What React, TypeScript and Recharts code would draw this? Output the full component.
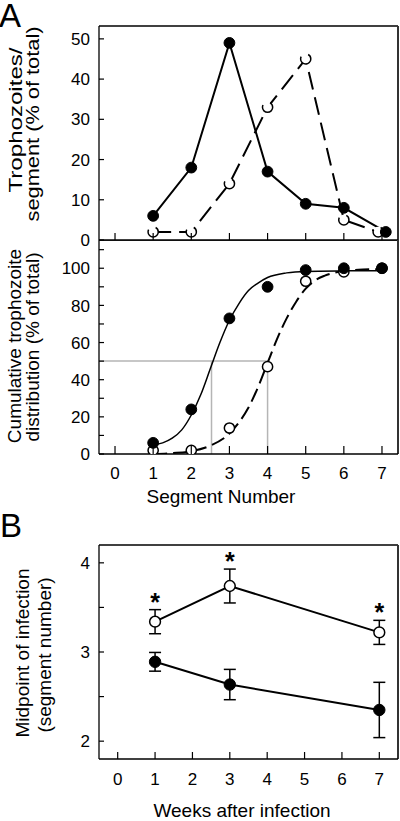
import React from 'react';
import { ComposedChart, Line, XAxis, YAxis, ReferenceLine, ReferenceDot, ErrorBar } from 'recharts';

// panel A, top: trophozoites per segment (% of total)
const segments = [1, 2, 3, 4, 5, 6, 7];
const perSegFilled = [6, 18, 49, 17, 9, 8, 2];
const perSegOpen = [2, 2, 14, 33, 45, 5, 2];
// last points are nudged apart in the original so both markers show
const perSegFilledX = [1, 2, 3, 4, 5, 6, 7.1];
const perSegOpenX = [1, 2, 3, 4, 5, 6, 6.9];

// panel A, bottom: cumulative distribution
const cumFilled = [6, 24, 73, 90, 99, 100, 100];
const cumOpen = [2, 2, 14, 47, 93, 98, 100];

// fitted curves
const fitFilledX = [1, 1.25, 1.5, 1.75, 2, 2.25, 2.5, 2.75, 3, 3.25, 3.5, 3.75, 4, 4.5, 5, 6, 7];
const fitFilledY = [5, 6, 8.5, 13, 21, 32, 46, 60, 72, 81, 88, 92, 95, 97.5, 98.3, 98.6, 98.7];
const fitOpenX = [1, 1.5, 2, 2.5, 3, 3.25, 3.5, 3.75, 4, 4.25, 4.5, 4.75, 5, 5.25, 5.5, 6, 6.5, 7];
const fitOpenY = [0, 0.5, 1.5, 4.5, 11, 17, 25, 36, 49, 62, 73, 82, 89, 93.5, 96, 98.5, 99.3, 99.5];

const midpoints = [2.53, 4.0];
const halfLevel = 50;

// panel B: midpoint of infection
const weeks = [1, 3, 7];
const midOpen = [3.34, 3.74, 3.22];
const midOpenErr = [0.135, 0.19, 0.135];
const midFilled = [2.89, 2.635, 2.35];
const midFilledErr = [0.105, 0.17, 0.31];

const xTicksA = [0, 1, 2, 3, 4, 5, 6, 7];
const xTicksB = [0, 1, 2, 3, 4, 5, 6, 7];
const yTicksTop = [0, 10, 20, 30, 40, 50];
const yTicksCum = [0, 10, 20, 30, 40, 50, 60, 70, 80, 90, 100, 110];
const yTicksB = [2, 2.5, 3, 3.5, 4];

const FONT = '"Liberation Sans", Arial, sans-serif';
const xDomA: [number, number] = [-0.42, 7.42];
const xDomB: [number, number] = [-0.5, 7.5];

const pts = (xs: number[], ys: number[]) => xs.map((x, i) => ({ x, y: ys[i] }));

const xTick = (len: number, gap: number | null) => (props: any) => {
  const { x, y, payload } = props;
  return (
    <g>
      <line x1={x} x2={x} y1={y} y2={y - len} stroke="#000" strokeWidth={1.2} />
      {gap !== null && (
        <text x={x} y={y + gap} textAnchor="middle" fontSize={17} fontFamily={FONT} fill="#000">
          {payload.value}
        </text>
      )}
    </g>
  );
};

const yTick = (len: number, show: (v: number) => boolean) => (props: any) => {
  const { x, y, payload } = props;
  return (
    <g>
      <line x1={x} x2={x + len} y1={y} y2={y} stroke="#000" strokeWidth={1.2} />
      {show(payload.value) && (
        <text x={x - 9} y={y} dy="0.36em" textAnchor="end" fontSize={17} fontFamily={FONT} fill="#000">
          {payload.value}
        </text>
      )}
    </g>
  );
};

// week labels of panel B, placed under each tick by the x scale
const WeekLabel = (p: any) => {
  const vb = p.viewBox || {};
  return (
    <text x={vb.x} y={(vb.y || 0) + (vb.height || 0) + 26} textAnchor="middle" fontSize={17} fontFamily={FONT} fill="#000">
      {p.value}
    </text>
  );
};

const Asterisk = (p: any) => (
  <text x={p.cx} y={p.cy + 1} textAnchor="middle" fontSize={25} fontWeight="bold" fontFamily={FONT} fill="#000">
    *
  </text>
);

const VTitle = ({ x, y, text, len }: { x: number; y: number; text: string; len?: number }) => (
  <text x={x} y={y} transform={`rotate(-90 ${x} ${y})`} textAnchor="middle" fontSize={19} fontFamily={FONT} fill="#000"
    textLength={len} lengthAdjust={len ? 'spacingAndGlyphs' : undefined}>
    {text}
  </text>
);

export default function App() {
  const abs = (top: number): React.CSSProperties => ({ position: 'absolute', left: 0, top });
  return (
    <div style={{ position: 'absolute', left: 0, top: 0, width: 400, height: 821 }}>
      <svg width={400} height={821} style={{ position: 'absolute', left: 0, top: 0, pointerEvents: 'none' }}>
        <text x={-1} y={27} fontSize={33} fontFamily={FONT} fill="#000">A</text>
        <text x={0} y={537} fontSize={33} fontFamily={FONT} fill="#000">B</text>
        <VTitle x={21.6} y={120} text="Trophozoites/" len={145} />
        <VTitle x={39} y={124} text="segment (% of total)" len={195} />
        <VTitle x={20.6} y={346} text="Cumulative trophozoite" />
        <VTitle x={38.9} y={347} text="distribution (% of total)" />
        <VTitle x={28.6} y={653} text="Midpoint of infection" />
        <VTitle x={51} y={655} text="(segment number)" />
        <text x={221} y={503} textAnchor="middle" fontSize={19} fontFamily={FONT} fill="#000">Segment Number</text>
        <text x={242} y={817} textAnchor="middle" fontSize={19} fontFamily={FONT} fill="#000">Weeks after infection</text>
      </svg>

      <div style={abs(0)}>
        <ComposedChart width={400} height={262} margin={{ top: 26, right: 2, left: 0, bottom: 21 }}>
          <XAxis type="number" scale="linear" dataKey="x" domain={xDomA} ticks={xTicksA} interval={0} height={1}
            tickSize={0} tickMargin={0} tickLine={false} axisLine={{ stroke: '#000', strokeWidth: 1.3 }} tick={xTick(7, null)} allowDataOverflow />
          <YAxis type="number" dataKey="y" domain={[0, 53.2]} ticks={yTicksTop} interval={0} width={99}
            tickSize={0} tickMargin={0} tickLine={false} axisLine={{ stroke: '#000', strokeWidth: 1.3 }} tick={yTick(5, () => true)} allowDataOverflow />
          <ReferenceLine y={53.2} stroke="#000" strokeWidth={1.3} />
          <ReferenceLine x={7.42} stroke="#333" strokeWidth={2} />
          <Line data={pts(perSegOpenX, perSegOpen)} dataKey="y" type="linear" stroke="#000" strokeWidth={2}
            strokeDasharray="18 8" dot={{ r: 5.1, fill: '#fff', stroke: '#000', strokeWidth: 1.5 }} isAnimationActive={false} />
          <Line data={pts(perSegFilledX, perSegFilled)} dataKey="y" type="linear" stroke="#000" strokeWidth={2}
            dot={{ r: 5.4, fill: '#000', stroke: '#000', strokeWidth: 1 }} isAnimationActive={false} />
        </ComposedChart>
      </div>

      <div style={abs(240)}>
        <ComposedChart width={400} height={270} margin={{ top: 0, right: 2, left: 0, bottom: 0 }}>
          <XAxis type="number" scale="linear" dataKey="x" domain={xDomA} ticks={xTicksA} interval={0} height={56}
            tickSize={0} tickMargin={0} tickLine={false} axisLine={{ stroke: '#000', strokeWidth: 1.3 }} tick={xTick(8, 24.5)} allowDataOverflow />
          <YAxis type="number" dataKey="y" domain={[0, 115.2]} ticks={yTicksCum} interval={0} width={99}
            tickSize={0} tickMargin={0} tickLine={false} axisLine={{ stroke: '#000', strokeWidth: 1.3 }}
            tick={yTick(5, (v) => v % 20 === 0 && v <= 100)} allowDataOverflow />
          <ReferenceLine y={115.2} stroke="#000" strokeWidth={1.3} />
          <ReferenceLine x={7.42} stroke="#333" strokeWidth={2} />
          <ReferenceLine segment={[{ x: xDomA[0], y: halfLevel }, { x: midpoints[1], y: halfLevel }]} stroke="#b5b5b5" strokeWidth={1.5} />
          {midpoints.map((m) => (
            <ReferenceLine key={m} segment={[{ x: m, y: 0 }, { x: m, y: halfLevel }]} stroke="#b5b5b5" strokeWidth={1.5} />
          ))}
          <Line data={pts(fitOpenX, fitOpenY)} dataKey="y" type="monotone" stroke="#000" strokeWidth={2}
            strokeDasharray="14 6" dot={false} isAnimationActive={false} />
          <Line data={pts(fitFilledX, fitFilledY)} dataKey="y" type="monotone" stroke="#000" strokeWidth={1.5}
            dot={false} isAnimationActive={false} />
          <Line data={pts(segments, cumOpen)} dataKey="y" stroke="none"
            dot={{ r: 5.1, fill: '#fff', stroke: '#000', strokeWidth: 1.5 }} isAnimationActive={false} />
          <Line data={pts(segments, cumFilled)} dataKey="y" stroke="none"
            dot={{ r: 5.4, fill: '#000', stroke: '#000', strokeWidth: 1 }} isAnimationActive={false} />
        </ComposedChart>
      </div>

      <div style={abs(500)}>
        <ComposedChart width={400} height={321} margin={{ top: 45, right: 2, left: 0, bottom: 0 }}>
          <XAxis type="number" scale="linear" dataKey="x" domain={xDomB} ticks={xTicksB} interval={0} height={62}
            tickSize={0} tickMargin={0} tickLine={false} axisLine={{ stroke: '#000', strokeWidth: 1.3 }} tick={xTick(7, null)} allowDataOverflow />
          <YAxis type="number" dataKey="y" domain={[1.8, 4.2]} ticks={yTicksB} interval={0} width={99}
            tickSize={0} tickMargin={0} tickLine={false} axisLine={{ stroke: '#000', strokeWidth: 1.3 }}
            tick={yTick(5, (v) => Number.isInteger(v))} allowDataOverflow />
          <ReferenceLine y={4.2} stroke="#000" strokeWidth={1.3} />
          <ReferenceLine x={7.5} stroke="#333" strokeWidth={2} />
          {xTicksB.map((v) => (
            <ReferenceLine key={`wk${v}`} x={v} stroke="none" label={<WeekLabel value={v} />} />
          ))}
          <Line data={weeks.map((w, i) => ({ x: w, y: midOpen[i], err: midOpenErr[i] }))} dataKey="y"
            stroke="#000" strokeWidth={2} dot={{ r: 5.4, fill: '#fff', stroke: '#000', strokeWidth: 1.5 }} isAnimationActive={false}>
            <ErrorBar dataKey="err" width={6} stroke="#000" strokeWidth={1.5} direction="y" />
          </Line>
          <Line data={weeks.map((w, i) => ({ x: w, y: midFilled[i], err: midFilledErr[i] }))} dataKey="y"
            stroke="#000" strokeWidth={2} dot={{ r: 5.7, fill: '#000', stroke: '#000', strokeWidth: 1 }} isAnimationActive={false}>
            <ErrorBar dataKey="err" width={6} stroke="#000" strokeWidth={1.5} direction="y" />
          </Line>
          {weeks.map((w, i) => (
            <ReferenceDot key={w} x={w} y={midOpen[i] + midOpenErr[i]} r={0} shape={Asterisk} />
          ))}
        </ComposedChart>
      </div>
    </div>
  );
}
